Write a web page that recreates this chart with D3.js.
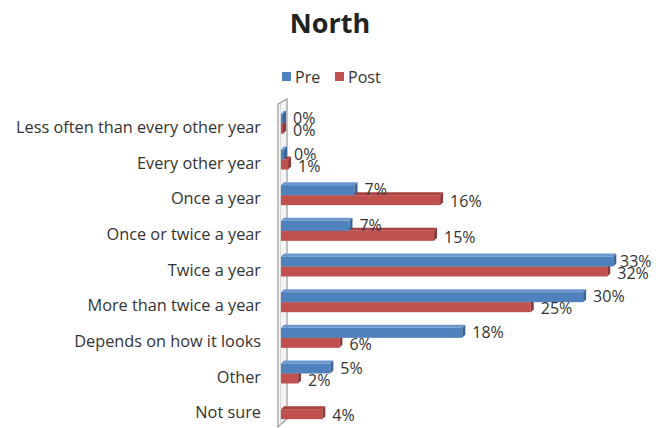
<!DOCTYPE html>
<html><head><meta charset="utf-8">
<script src="https://cdn.jsdelivr.net/npm/d3@7"></script>
<style>body{margin:0;background:#fff}svg{display:block}text{font-family:"Open Sans",Lato,sans-serif}</style>
</head><body>
<script>
const categories = ["Less often than every other year","Every other year","Once a year","Once or twice a year","Twice a year","More than twice a year","Depends on how it looks","Other","Not sure"];
const preValues  = [0.2, 0.3, 7.3, 6.8, 33.0, 30.0, 18.0, 4.9, 0];
const postValues = [0.2, 0.7, 15.8, 15.2, 32.4, 24.8, 5.8, 1.7, 4.1];
const preLabels  = ["0%","0%","7%","7%","33%","30%","18%","5%",""];
const postLabels = ["0%","1%","16%","15%","32%","25%","6%","2%","4%"];
const seriesNames = ["Pre","Post"];
const title = "North";

const W = 659, H = 428;
const svg = d3.select("body").append("svg").attr("width", W).attr("height", H);
const x = d3.scaleLinear().domain([0, 35]).range([281, 281 + 35 * 10.07]);
const y = d3.scaleBand().domain(categories).range([109, 430]);
const colors = {Pre: {front: "#4F81BD", top: "#6b97cf", side: "#3a6496"}, Post: {front: "#C0504D", top: "#a7423f", side: "#8e3a38"}};
const D = 3; // depth

svg.append("text").attr("x", 330).attr("y", 33).attr("text-anchor", "middle")
  .attr("font-size", 27).attr("font-weight", "bold").attr("fill", "#222").text(title);

const leg = svg.append("g");
[[282, "Pre"], [335, "Post"]].forEach(([lx, name]) => {
  leg.append("rect").attr("x", lx).attr("y", 72).attr("width", 9).attr("height", 9).attr("fill", colors[name].front);
  leg.append("text").attr("x", lx + 13).attr("y", 82.5).attr("font-size", 16).attr("fill", "#333").text(name);
});

svg.append("path").attr("d", "M278,104 L287,99 L287,419 L278,427 Z")
  .attr("fill", "#f4f4f4").attr("stroke", "#9a9a9a").attr("stroke-width", 1.2);
svg.append("line").attr("x1", 280.5).attr("x2", 280.5).attr("y1", 103).attr("y2", 425).attr("stroke", "#d8d8d8");

svg.append("g").selectAll("text").data(categories).join("text")
  .attr("x", 261).attr("y", d => y(d) + y.bandwidth() / 2 + 6)
  .attr("text-anchor", "end").attr("font-size", 16.3).attr("fill", "#333").text(d => d);

function bar(g, x0, x1, yTop, h, c) {
  g.append("path").attr("d", `M${x0},${yTop} L${x0 + D},${yTop - D} L${x1 + D},${yTop - D} L${x1},${yTop} Z`).attr("fill", c.top);
  g.append("rect").attr("x", x0).attr("y", yTop).attr("width", Math.max(0, x1 - x0)).attr("height", h).attr("fill", c.front);
  g.append("path").attr("d", `M${x1},${yTop} L${x1 + D},${yTop - D} L${x1 + D},${yTop + h - D} L${x1},${yTop + h} Z`).attr("fill", c.side);
}

const bars = svg.append("g");
categories.forEach((cat, i) => {
  const c = y(cat) + y.bandwidth() / 2;
  if (postLabels[i] !== "" ) bar(bars, x(0), x(postValues[i]), c - 3, 10, colors.Post);
  if (preLabels[i] !== "") bar(bars, x(0), x(preValues[i]), c - 13, 10, colors.Pre);
});

const labs = svg.append("g").attr("font-size", 16).attr("fill", "#333");
categories.forEach((cat, i) => {
  const c = y(cat) + y.bandwidth() / 2;
  if (preLabels[i] !== "") labs.append("text").attr("x", Math.min(x(preValues[i]) + 10, 620)).attr("y", c - 9 + 6).text(preLabels[i]);
  if (postLabels[i] !== "") labs.append("text").attr("x", Math.min(x(postValues[i]) + 10, 618)).attr("y", c + 3 + 6).text(postLabels[i]);
});
</script>
</body></html>
